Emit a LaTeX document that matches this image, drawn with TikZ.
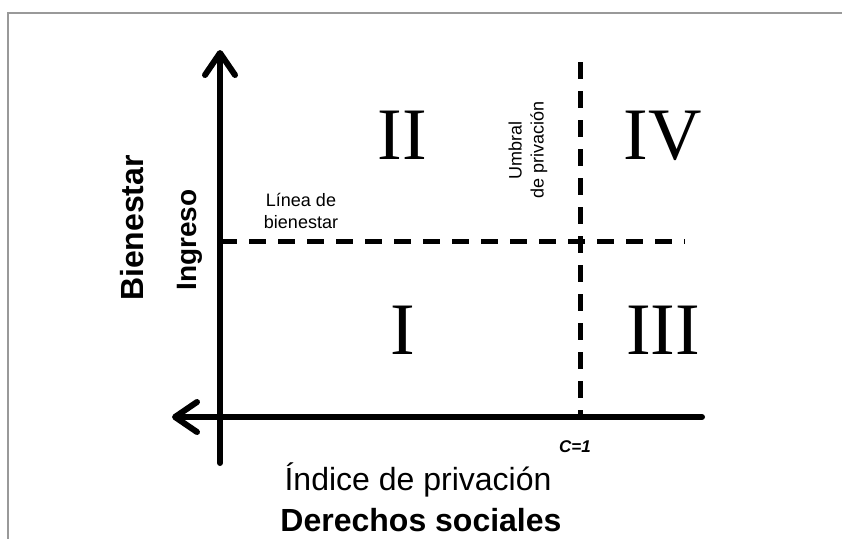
\documentclass[tikz,border=0pt]{standalone}
\usepackage{fontspec}
\setmainfont{Liberation Serif}
\setsansfont{Liberation Sans}
\usetikzlibrary{arrows.meta}
\usetikzlibrary{positioning}
\tikzset{axis/.style={draw,
                      line width=6pt,
                      line cap=round,
                      -{Straight Barb[length=22pt,width=30pt,line cap=round,round]}}}
\tikzset{threshold/.style={draw,
                           line width=5pt,
                           dash pattern=on 17pt off 12pt}}
\tikzset{quadrant/.style={font=\fontsize{74}{74}\selectfont,inner sep=0pt}}
\tikzset{note/.style={font=\sffamily\fontsize{18}{22}\selectfont,align=center,inner sep=0pt}}
\newcommand{\bigsans}{\sffamily\fontsize{32}{38}\selectfont}

\begin{document}
\begin{tikzpicture}
      [
      x=1pt,y=-1pt,
      frame/.style={draw=gray!80,line width=2pt},
      ]
      \useasboundingbox (0,0) rectangle (842,539);

      % frame
      \coordinate (F1) at (842,13);
      \coordinate (F2) at (8,13);
      \coordinate (F3) at (8,539);
      \draw [frame] (F1) -- (F2) -- (F3);

      % axes
      \coordinate (O) at (220,417);
      \coordinate (Ybot) at (220,463);
      \coordinate (Ytop) at (220,50);
      \coordinate (Xright) at (702,417);
      \coordinate (Xleft) at (172,417);
      \path [axis] (Ybot) -- (Ytop);
      \path [axis] (Xright) -- (Xleft);

      % thresholds
      \coordinate (Hleft) at (220,241);
      \coordinate (Hright) at (685,241);
      \coordinate (Vtop) at (580,62);
      \coordinate (Vbot) at (580,417);
      \path [threshold] (Hleft) -- (Hright);
      \path [threshold] (Vtop) -- (Vbot);

      % quadrants
      \foreach \n/\x/\y/\t in
      {
      Q1/403/330/I,
      Q2/402/135/II,
      Q3/663/330/III,
      Q4/663/136/IV
      }
      {
      \node [quadrant] (\n) at (\x,\y) {\t};
      }

      % labels
      \node [rotate=90,font=\bigsans\bfseries] (bienestar) at (132,228) {Bienestar};
      \node [rotate=90,font=\sffamily\bfseries\fontsize{28}{32}\selectfont] (ingreso) at (190,240) {Ingreso};
      \node [note] (linea) at (301,211) {Línea de\\bienestar};
      \node [note,rotate=90] (umbral) at (528,150) {Umbral\\de privación};
      \node [font=\sffamily\bfseries\itshape\fontsize{17}{20}\selectfont] (c1) at (575,447) {C=1};
      \node [font=\bigsans] (indice) at (418,480) {Índice de privación};
      \node [font=\bigsans\bfseries] (derechos) at (421,520) {Derechos sociales};

    \end{tikzpicture}
\end{document}
